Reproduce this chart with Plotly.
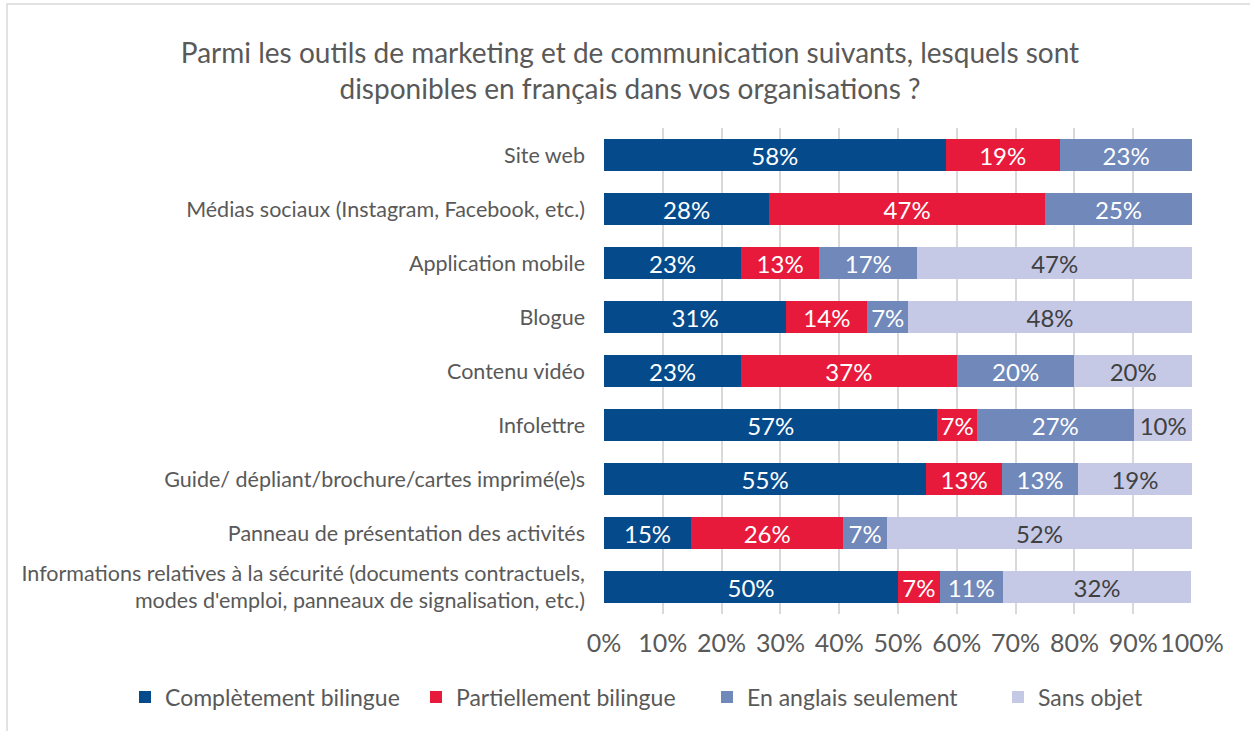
import plotly.graph_objects as go

categories = [
    "Site web",
    "Médias sociaux (Instagram, Facebook, etc.)",
    "Application mobile",
    "Blogue",
    "Contenu vidéo",
    "Infolettre",
    "Guide/ dépliant/brochure/cartes imprimé(e)s",
    "Panneau de présentation des activités",
    "Informations relatives à la sécurité (documents contractuels,<br>modes d'emploi, panneaux de signalisation, etc.)",
]
series_names = ["Complètement bilingue", "Partiellement bilingue", "En anglais seulement", "Sans objet"]
completement = [58.1, 28.1, 23.3, 31.0, 23.3, 56.7, 54.8, 14.8, 50.0]
partiellement = [19.4, 46.9, 13.3, 13.8, 36.7, 6.7, 12.9, 25.9, 7.1]
anglais = [22.6, 25.0, 16.7, 6.9, 20.0, 26.7, 12.9, 7.4, 10.7]
sans_objet = [0, 0, 46.7, 48.3, 20.0, 10.0, 19.4, 51.9, 32.1]
x_ticks = [0, 10, 20, 30, 40, 50, 60, 70, 80, 90, 100]

colors = ["#054B8C", "#E81A3B", "#7088BA", "#C5C9E6"]
text_colors = ["white", "white", "white", "#404040"]
FONT = "Lato"

fig = go.Figure()
for name, vals, c, tc in zip(series_names, [completement, partiellement, anglais, sans_objet], colors, text_colors):
    fig.add_trace(go.Bar(
        y=categories, x=vals, name=name, orientation="h",
        marker=dict(color=c, line=dict(width=0)),
        text=[f"{v:.0f}%" if v > 0 else "" for v in vals],
        textposition="inside", insidetextanchor="middle",
        textfont=dict(color=tc, size=24, family=FONT),
        constraintext="none",
        hoverinfo="skip",
    ))

fig.update_layout(
    barmode="stack",
    bargap=0.4,
    width=1250, height=731,
    margin=dict(l=604, r=58, t=128, b=117, autoexpand=False),
    paper_bgcolor="white", plot_bgcolor="white",
    font=dict(family=FONT, color="#595959"),
    title=dict(
        text="Parmi les outils de marketing et de communication suivants, lesquels sont<br>disponibles en français dans vos organisations ?",
        x=0.504, xanchor="center", y=1 - 63 / 731, yanchor="middle",
        font=dict(size=28, color="#595959", family=FONT),
    ),
    legend=dict(
        orientation="h", x=(125 - 604) / 588, xanchor="left",
        y=(614 - 697) / 486, yanchor="middle",
        font=dict(size=23, color="#595959", family=FONT),
        itemwidth=30, traceorder="normal",
        entrywidth=246, entrywidthmode="pixels",
    ),
)

fig.update_xaxes(
    range=[0, 100], tickvals=x_ticks, ticktext=[f"{t}%" for t in x_ticks],
    showgrid=True, gridcolor="#D9D9D9", gridwidth=2,
    zeroline=False, showline=False, tickangle=0, automargin=False,
    tickfont=dict(size=25, color="#595959", family=FONT),
    ticklabelstandoff=12, fixedrange=True,
)
fig.update_yaxes(
    autorange="reversed", showgrid=False, showline=False, automargin=False,
    tickfont=dict(size=21.5, color="#595959", family=FONT),
    ticklabelstandoff=18,
)

fig.add_shape(type="rect", xref="paper", yref="paper",
              x0=(7 - 604) / 588, x1=1.3, y0=-0.4, y1=(614 - 4) / 486,
              line=dict(color="#D9D9D9", width=1.5), fillcolor="rgba(0,0,0,0)", layer="below")

fig.write_html("out.html")
